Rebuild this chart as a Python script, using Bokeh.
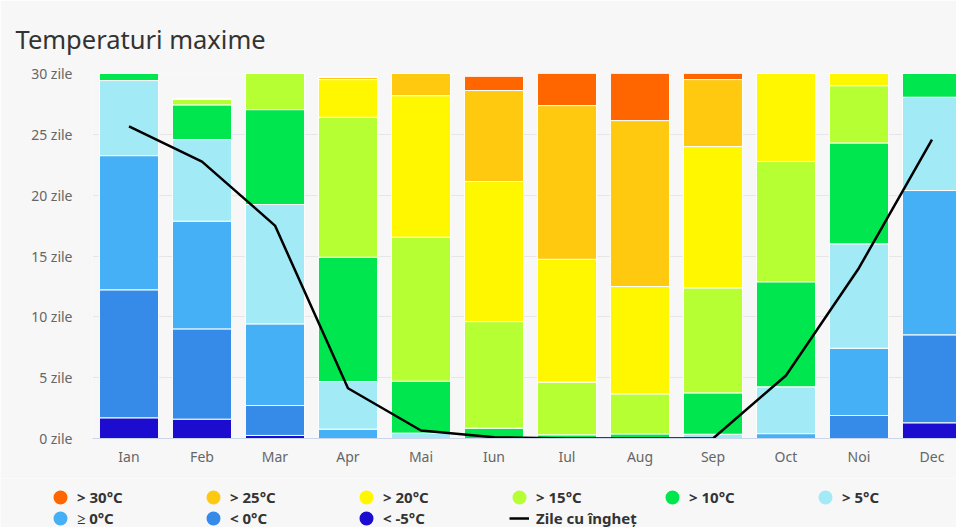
from bokeh.plotting import figure
from bokeh.layouts import column
from bokeh.models import ColumnDataSource, FixedTicker, Range1d, Legend, LegendItem
from bokeh.embed import file_html
from bokeh.resources import INLINE

months = ["Ian", "Feb", "Mar", "Apr", "Mai", "Iun", "Iul", "Aug", "Sep", "Oct", "Noi", "Dec"]

lt_m5 = [1.70, 1.59, 0.25, 0, 0, 0, 0, 0, 0, 0, 0, 1.29]
lt_0 = [10.52, 7.42, 2.46, 0, 0, 0, 0, 0, 0, 0, 1.89, 7.23]
ge_0 = [11.03, 8.85, 6.71, 0.77, 0, 0, 0, 0, 0, 0.40, 5.53, 11.86]
gt_5 = [6.17, 6.71, 9.81, 3.91, 0.44, 0, 0, 0, 0.35, 3.85, 8.58, 7.67]
gt_10 = [0.58, 2.85, 7.80, 10.22, 4.27, 0.85, 0.30, 0.38, 3.40, 8.63, 8.29, 1.95]
gt_15 = [0, 0.49, 2.97, 11.50, 11.83, 8.76, 4.33, 3.29, 8.63, 9.89, 4.71, 0]
gt_20 = [0, 0, 0, 3.10, 11.64, 11.51, 10.10, 8.82, 11.61, 7.23, 1.00, 0]
gt_25 = [0, 0, 0, 0.20, 1.82, 7.48, 12.63, 13.64, 5.51, 0, 0, 0]
gt_30 = [0, 0, 0, 0, 0, 1.17, 2.64, 3.87, 0.50, 0, 0, 0]
frost_days = [25.66, 22.76, 17.5, 4.13, 0.66, 0.1, 0, 0, 0, 5.18, 14.02, 24.57]

series_keys = ["lt_m5", "lt_0", "ge_0", "gt_5", "gt_10", "gt_15", "gt_20", "gt_25", "gt_30"]
series_labels = ["< -5°C", "< 0°C", "≥ 0°C", "> 5°C", "> 10°C", "> 15°C", "> 20°C", "> 25°C", "> 30°C"]
series_colors = ["#1b0ccf", "#368be9", "#45b0f5", "#a2eaf6", "#00e64e",
                 "#b5ff33", "#fff700", "#ffc90f", "#ff6600"]
frost_label = "Zile cu îngheț"
y_ticks = [0, 5, 10, 15, 20, 25, 30]

x_idx = list(range(len(months)))
src = ColumnDataSource(dict(x=x_idx, lt_m5=lt_m5, lt_0=lt_0, ge_0=ge_0, gt_5=gt_5,
                            gt_10=gt_10, gt_15=gt_15, gt_20=gt_20, gt_25=gt_25,
                            gt_30=gt_30, frost=frost_days))

FONT = "Noto Sans"
BG = "#f7f7f7"

p = figure(width=956, height=478, output_backend="svg", toolbar_location=None,
           x_range=Range1d(-0.5, 11.336), y_range=Range1d(0, 30),
           min_border_left=92, min_border_right=0, min_border_top=73,
           min_border_bottom=40)
p.frame_align = False
p.background_fill_color = BG
p.border_fill_color = BG
p.outline_line_color = None

p.title.text = "Temperaturi maxime"
p.title.text_font = FONT
p.title.text_font_size = "25.5px"
p.title.text_font_style = "normal"
p.title.text_color = "#333333"
p.title.align = "left"
p.title.offset = -77
p.title.standoff = 36

bars = p.vbar_stack(series_keys, x="x", width=0.81, source=src,
                    color=series_colors, line_color="white", line_width=1)
line_r = p.line(x="x", y="frost", source=src, line_color="black", line_width=2.5)

# x axis
p.xaxis.ticker = FixedTicker(ticks=x_idx)
p.xaxis.major_label_overrides = {i: m for i, m in zip(x_idx, months)}
p.xaxis.axis_line_color = "#ccd6eb"
p.xaxis.major_tick_line_color = None
p.xaxis.minor_tick_line_color = None
p.xaxis.major_tick_out = 0
p.xaxis.major_tick_in = 0
p.xaxis.major_label_text_color = "#666666"
p.xaxis.major_label_text_font = FONT
p.xaxis.major_label_text_font_size = "14px"
p.xaxis.major_label_standoff = 8

# y axis
p.yaxis.ticker = FixedTicker(ticks=y_ticks)
p.yaxis.major_label_overrides = {t: f"{t} zile" for t in y_ticks}
p.yaxis.axis_line_color = None
p.yaxis.major_tick_line_color = None
p.yaxis.minor_tick_line_color = None
p.yaxis.major_tick_out = 0
p.yaxis.major_tick_in = 0
p.yaxis.major_label_text_color = "#666666"
p.yaxis.major_label_text_font = FONT
p.yaxis.major_label_text_font_size = "14px"
p.yaxis.major_label_standoff = 20

p.xgrid.grid_line_color = None
p.ygrid.grid_line_color = "#e6e6e6"
p.ygrid.ticker = FixedTicker(ticks=y_ticks)

# legend figure below the chart
lg = figure(width=956, height=49, output_backend="svg", toolbar_location=None,
            title=None, x_range=Range1d(0, 1), y_range=Range1d(0, 1),
            min_border_left=0, min_border_right=0, min_border_top=0,
            min_border_bottom=0, x_axis_type=None, y_axis_type=None)
lg.frame_align = False
lg.background_fill_color = BG
lg.border_fill_color = BG
lg.outline_line_color = None
lg.grid.visible = False

nan = float("nan")
legend_order = [8, 7, 6, 5, 4, 3, 2, 1, 0]
items = []
for i in legend_order:
    c = series_colors[i]
    d = lg.scatter(x=[nan], y=[nan], marker="circle", fill_color=c, line_color=c, line_width=6)
    items.append(LegendItem(label=series_labels[i], renderers=[d]))
dl = lg.line(x=[nan, nan], y=[nan, nan], line_color="black", line_width=2.5)
items.append(LegendItem(label=frost_label, renderers=[dl]))

legend = Legend(items=items, location=(50, -1), orientation="horizontal", ncols=6,
                glyph_width=20, glyph_height=20, label_standoff=7, label_width=125,
                label_height=20, spacing=1, padding=0, margin=0,
                background_fill_alpha=0, border_line_alpha=0,
                label_text_font=FONT, label_text_font_size="15px",
                label_text_font_style="bold", label_text_color="#333333")
lg.add_layout(legend, "center")

layout = column(p, lg, spacing=0)
open("out.html", "w").write(file_html(layout, INLINE))
